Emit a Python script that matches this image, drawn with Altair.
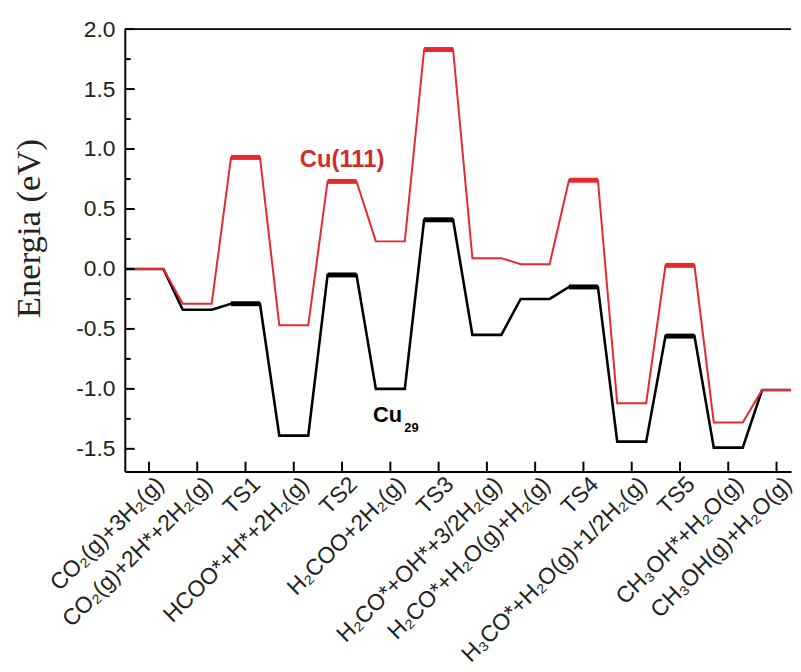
import json
import altair as alt
import pandas as pd

# ---- data ----
categories = [
    "CO₂(g)+3H₂(g)",
    "CO₂(g)+2H*+2H₂(g)",
    "TS1",
    "HCOO*+H*+2H₂(g)",
    "TS2",
    "H₂COO+2H₂(g)",
    "TS3",
    "H₂CO*+OH*+3/2H₂(g)",
    "H₂CO*+H₂O(g)+H₂(g)",
    "TS4",
    "H₃CO*+H₂O(g)+1/2H₂(g)",
    "TS5",
    "CH₃OH*+H₂O(g)",
    "CH₃OH(g)+H₂O(g)",
]
cu111 = [0.0, -0.29, 0.93, -0.47, 0.73, 0.23, 1.83, 0.09, 0.04, 0.74, -1.12, 0.03, -1.28, -1.01]
cu29 = [0.0, -0.34, -0.29, -1.39, -0.05, -1.00, 0.41, -0.55, -0.25, -0.15, -1.44, -0.56, -1.49, -1.01]
y_ticks = [-1.5, -1.0, -0.5, 0.0, 0.5, 1.0, 1.5, 2.0]
y_minor = [-1.25, -0.75, -0.25, 0.25, 0.75, 1.25, 1.75]

ann_text = ["Cu(111)", "Cu", "29"]
ann_x = [4.0, 4.64, 5.29]
ann_y = [0.91, -1.22, -1.33]

# ---- layout constants ----
HALF = 0.3
X_MIN, X_MAX = -0.5, 13.3
Y_MIN, Y_MAX = -1.69, 2.0
W, H = 673, 447
RED = "#e8282e"
BLACK = "#000000"

n = len(categories)


def path_rows(name, vals):
    rows = []
    for i, v in enumerate(vals):
        x0 = X_MIN if i == 0 else i - HALF
        x1 = X_MAX if i == n - 1 else i + HALF
        rows.append({"series": name, "x": x0, "y": v, "order": 2 * i})
        rows.append({"series": name, "x": x1, "y": v, "order": 2 * i + 1})
    return rows


def ts_rows(name, vals):
    return [
        {"series": name, "x0": i - HALF, "x1": i + HALF, "y": v}
        for i, v in enumerate(vals)
        if categories[i].startswith("TS")
    ]


path29 = pd.DataFrame(path_rows("Cu29", cu29))
path111 = pd.DataFrame(path_rows("Cu(111)", cu111))
ts29 = pd.DataFrame(ts_rows("Cu29", cu29))
ts111 = pd.DataFrame(ts_rows("Cu(111)", cu111))

label_expr = json.dumps(categories, ensure_ascii=False) + "[datum.value]"

x_scale = alt.Scale(domain=[X_MIN, X_MAX], nice=False, zero=False)
y_scale = alt.Scale(domain=[Y_MIN, Y_MAX], nice=False, zero=False)

x_axis = alt.Axis(
    values=list(range(n)),
    labelExpr=label_expr,
    labelAngle=315,
    labelAlign="right",
    labelBaseline="middle",
    labelOffset=11,
    labelPadding=9,
    labelOverlap=False,
    labelFlush=False,
    labelLimit=0,
    labelFont="Liberation Sans",
    labelFontSize=23,
    labelColor="#222222",
    tickSize=0,
    grid=False,
    domainColor="#000000",
    domainWidth=2,
    title=None,
)
y_axis = alt.Axis(
    values=y_ticks,
    labelExpr="replace(format(datum.value, '.1f'), '\u2212', '-')",
    labelFont="Liberation Sans",
    labelFontSize=23,
    labelColor="#222222",
    labelPadding=10,
    tickSize=0,
    grid=False,
    domainColor="#000000",
    domainWidth=2,
    title="Energia (eV)",
    titleFont="Liberation Serif",
    titleFontSize=35,
    titleFontWeight="normal",
    titleColor="#222222",
    titleAngle=270,
    titleAlign="center",
    titleBaseline="middle",
    titleX=-97,
    titleY=201,
)


def X(field):
    return alt.X(field, type="quantitative", scale=x_scale, axis=x_axis)


def Y(field):
    return alt.Y(field, type="quantitative", scale=y_scale, axis=y_axis)


line29 = alt.Chart(path29).mark_line(color=BLACK, strokeWidth=2.6, clip=True).encode(
    x=X("x"), y=Y("y"), order="order:Q"
)
line111 = alt.Chart(path111).mark_line(color=RED, strokeWidth=2.0, clip=True).encode(
    x=X("x"), y=Y("y"), order="order:Q"
)
bar29 = alt.Chart(ts29).mark_rule(color=BLACK, strokeWidth=5).encode(
    x=X("x0"), x2="x1", y=Y("y")
)
bar111 = alt.Chart(ts111).mark_rule(color=RED, strokeWidth=5).encode(
    x=X("x0"), x2="x1", y=Y("y")
)

# inward ticks
ymaj = alt.Chart(pd.DataFrame({"v": y_ticks})).mark_rule(color=BLACK, strokeWidth=2).encode(
    y=Y("v"), x=alt.value(0), x2=alt.value(10)
)
ymin = alt.Chart(pd.DataFrame({"v": y_minor})).mark_rule(color=BLACK, strokeWidth=2).encode(
    y=Y("v"), x=alt.value(0), x2=alt.value(6)
)
xmaj = alt.Chart(pd.DataFrame({"i": list(range(n))})).mark_rule(color=BLACK, strokeWidth=2).encode(
    x=X("i"), y=alt.value(H), y2=alt.value(H - 10)
)
top = alt.Chart(pd.DataFrame({"v": [Y_MAX]})).mark_rule(color=BLACK, strokeWidth=2).encode(
    y=Y("v"), x=alt.value(0), x2=alt.value(W)
)

ann = pd.DataFrame({"t": ann_text, "x": ann_x, "y": ann_y})
t111 = alt.Chart(ann.iloc[[0]]).mark_text(
    font="Liberation Sans", fontSize=24, fontWeight="bold", color="#d42a2f", align="center", baseline="middle"
).encode(x=X("x"), y=Y("y"), text="t:N")
tcu = alt.Chart(ann.iloc[[1]]).mark_text(
    font="Liberation Sans", fontSize=22, fontWeight="bold", color=BLACK, align="left", baseline="middle"
).encode(x=X("x"), y=Y("y"), text="t:N")
tsub = alt.Chart(ann.iloc[[2]]).mark_text(
    font="Liberation Sans", fontSize=13, fontWeight="bold", color=BLACK, align="left", baseline="middle"
).encode(x=X("x"), y=Y("y"), text="t:N")

chart = (
    alt.layer(line29, line111, bar29, bar111, ymaj, ymin, xmaj, top, t111, tcu, tsub)
    .properties(
        width=W,
        height=H,
        autosize=alt.AutoSizeParams(type="none"),
        padding={"left": 118, "top": 18, "right": 2, "bottom": 190},
        background="white",
    )
    .configure_view(stroke=None)
)

chart.save("out.html", embed_options={"renderer": "svg", "actions": False})
